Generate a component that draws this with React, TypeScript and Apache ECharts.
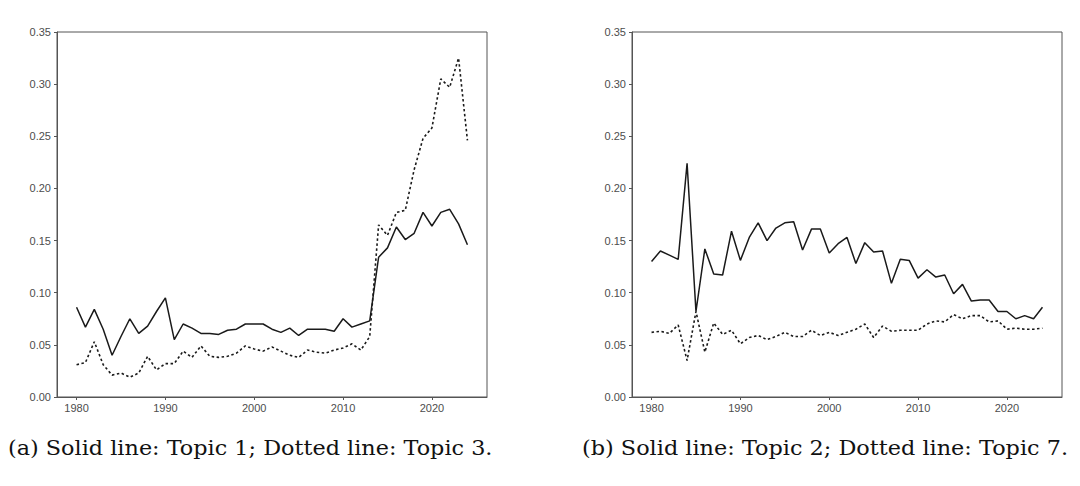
import React, { useEffect, useRef } from "react";
import * as echarts from "echarts";

const years: number[] = Array.from({ length: 45 }, (_, i) => 1980 + i);

const topic1: number[] = [
  0.086, 0.067, 0.084, 0.065, 0.04, 0.058, 0.075, 0.061, 0.068, 0.082,
  0.095, 0.055, 0.07, 0.066, 0.061, 0.061, 0.06, 0.064, 0.065, 0.07,
  0.07, 0.07, 0.065, 0.062, 0.066, 0.059, 0.065, 0.065, 0.065, 0.063,
  0.075, 0.067, 0.07, 0.073, 0.134, 0.143, 0.163, 0.151, 0.157, 0.177,
  0.164, 0.177, 0.18, 0.166, 0.146,
];
const topic3: number[] = [
  0.031, 0.033, 0.053, 0.031, 0.021, 0.023, 0.019, 0.023, 0.039, 0.026,
  0.032, 0.032, 0.044, 0.038, 0.049, 0.039, 0.038, 0.039, 0.042, 0.049,
  0.046, 0.044, 0.048, 0.044, 0.04, 0.038, 0.045, 0.043, 0.042, 0.045,
  0.047, 0.051, 0.045, 0.058, 0.165, 0.155, 0.177, 0.179, 0.218, 0.248,
  0.258, 0.305, 0.297, 0.325, 0.246,
];
const topic2: number[] = [
  0.13, 0.14, 0.136, 0.132, 0.224, 0.082, 0.142, 0.118, 0.117, 0.159,
  0.131, 0.153, 0.167, 0.15, 0.162, 0.167, 0.168, 0.141, 0.161, 0.161,
  0.138, 0.147, 0.153, 0.128, 0.148, 0.139, 0.14, 0.109, 0.132, 0.131,
  0.114, 0.122, 0.115, 0.117, 0.099, 0.108, 0.092, 0.093, 0.093, 0.082,
  0.082, 0.075, 0.078, 0.075, 0.086,
];
const topic7: number[] = [
  0.062, 0.063, 0.061, 0.069, 0.035, 0.082, 0.043, 0.071, 0.06, 0.064,
  0.051, 0.057, 0.059, 0.055, 0.058, 0.062, 0.058, 0.058, 0.064, 0.059,
  0.062, 0.059, 0.062, 0.065, 0.07, 0.057, 0.068, 0.063, 0.064, 0.064,
  0.064, 0.07, 0.073, 0.072, 0.079, 0.075, 0.078, 0.078, 0.072, 0.073,
  0.065, 0.066, 0.065, 0.065, 0.066,
];

const xTicks: number[] = [1980, 1990, 2000, 2010, 2020];
const captions: string[] = [
  "(a) Solid line: Topic 1; Dotted line: Topic 3.",
  "(b) Solid line: Topic 2; Dotted line: Topic 7.",
];

const axisColor = "#555555";
const labelColor = "#4d4d4d";
const captionFont = "20px 'DejaVu Serif', 'Liberation Serif', serif";

function makeX(gridIndex: number) {
  return {
    type: "value",
    gridIndex,
    min: 1977.8,
    max: 2026.2,
    splitLine: { show: false },
    axisLine: { show: true, onZero: false, lineStyle: { color: axisColor, width: 1 } },
    axisTick: {
      show: true,
      length: 3,
      customValues: xTicks,
      lineStyle: { color: axisColor },
    },
    axisLabel: {
      customValues: xTicks,
      color: labelColor,
      fontSize: 11,
      fontFamily: "Liberation Sans, Arial, sans-serif",
      margin: 5,
      formatter: (v: number) => String(v),
    },
  };
}

function makeY(gridIndex: number) {
  return {
    type: "value",
    gridIndex,
    min: 0,
    max: 0.35,
    interval: 0.05,
    splitLine: { show: false },
    axisLine: { show: true, lineStyle: { color: axisColor, width: 1 } },
    axisTick: { show: true, length: 3, lineStyle: { color: axisColor } },
    axisLabel: {
      color: labelColor,
      fontSize: 11,
      fontFamily: "Liberation Sans, Arial, sans-serif",
      margin: 6,
      formatter: (v: number) => v.toFixed(2),
    },
  };
}

function pairs(vals: number[]) {
  return years.map((y, i) => [y, vals[i]]);
}

function line(name: string, vals: number[], idx: number, dotted: boolean) {
  return {
    name,
    type: "line",
    xAxisIndex: idx,
    yAxisIndex: idx,
    data: pairs(vals),
    showSymbol: false,
    symbol: "none",
    lineStyle: {
      color: "#1a1a1a",
      width: dotted ? 1.6 : 1.5,
      type: dotted ? [2.5, 2.5] : "solid",
    },
  };
}

function measure(text: string, font: string): number {
  const c = document.createElement("canvas");
  const ctx = c.getContext("2d");
  if (!ctx) return 485;
  ctx.font = font;
  return ctx.measureText(text).width || 485;
}

export default function App() {
  const ref = useRef<HTMLDivElement>(null);
  useEffect(() => {
    if (!ref.current) return;
    const chart = echarts.init(ref.current, undefined, { renderer: "svg" });
    const targetW = [485, 486];
    const startX = [8, 582];
    const capGraphics = captions.map((t, i) => {
      const w = measure(t, captionFont);
      return {
        type: "text",
        x: startX[i],
        y: 438,
        scaleX: targetW[i] / w,
        style: {
          text: t,
          font: captionFont,
          fill: "#111111",
          textVerticalAlign: "top",
        },
      };
    });
    chart.setOption({
      animation: false,
      backgroundColor: "#ffffff",
      grid: [
        { left: 57, top: 32, width: 430, height: 365, show: true, borderColor: axisColor, borderWidth: 1, containLabel: false },
        { left: 632, top: 32, width: 430, height: 365, show: true, borderColor: axisColor, borderWidth: 1, containLabel: false },
      ],
      xAxis: [makeX(0), makeX(1)],
      yAxis: [makeY(0), makeY(1)],
      series: [
        line("Topic 1", topic1, 0, false),
        line("Topic 3", topic3, 0, true),
        line("Topic 2", topic2, 1, false),
        line("Topic 7", topic7, 1, true),
      ],
      graphic: capGraphics,
    });
    return () => chart.dispose();
  }, []);
  return (
    <div
      ref={ref}
      style={{ position: "fixed", left: 0, top: 0, width: 1080, height: 486 }}
    />
  );
}
